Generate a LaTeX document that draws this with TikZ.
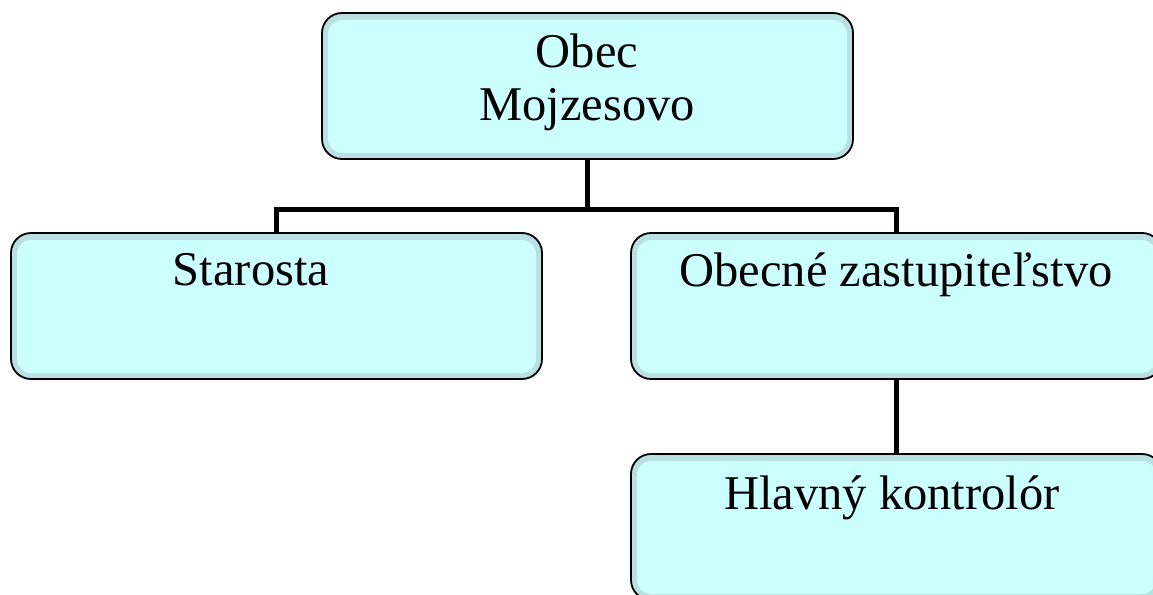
\documentclass[tikz,border=0pt]{standalone}
\usepackage{fontspec}
\setmainfont{Liberation Serif}
\definecolor{bandc}{RGB}{185,224,226}
\definecolor{lightc}{RGB}{204,255,255}
\tikzset{
  orgbox/.style={draw=black, line width=1.8pt, fill=bandc, rounded corners=20pt,
    minimum width=531pt, minimum height=146pt, inner sep=0pt, outer sep=0pt},
  conn/.style={draw=black, line width=5.5pt},
  lbl/.style={anchor=base, inner sep=0pt, font=\fontsize{48.5}{53}\selectfont}
}
\newcommand{\innerfill}[1]{%
  \fill[lightc, rounded corners=14pt] ([shift={(6pt,-7pt)}]#1.north west) rectangle ([shift={(-6pt,6pt)}]#1.south east);}
\begin{document}
\begin{tikzpicture}[x=1pt,y=-1pt]
\useasboundingbox (0,0) rectangle (1153,594);
\clip (0,0) rectangle (1153,594);
\fill[white] (0,0) rectangle (1153,594);
\node[orgbox] (top) at (587.5,86) {};
\node[orgbox] (left) at (276.5,306) {};
\node[orgbox] (right) at (896.5,306) {};
\node[orgbox] (bottom) at (896.5,527) {};
\innerfill{top}
\innerfill{left}
\innerfill{right}
\innerfill{bottom}
\coordinate (j) at (587.5,209.5);
\draw[conn] (top.south) -- (j);
\draw[conn] (left.north) |- (j) -| (right.north);
\draw[conn] (right.south) -- (bottom.north);
\node[lbl] (t1) at (587,67) {Obec};
\node[lbl] (t2) at (587,120) {Mojzesovo};
\node[lbl] (t3) at (251,285) {Starosta};
\node[lbl] (t4) at (896,286) {Obecné zastupiteľstvo};
\node[lbl] (t5) at (892,509) {Hlavný kontrolór};
\end{tikzpicture}
\end{document}
